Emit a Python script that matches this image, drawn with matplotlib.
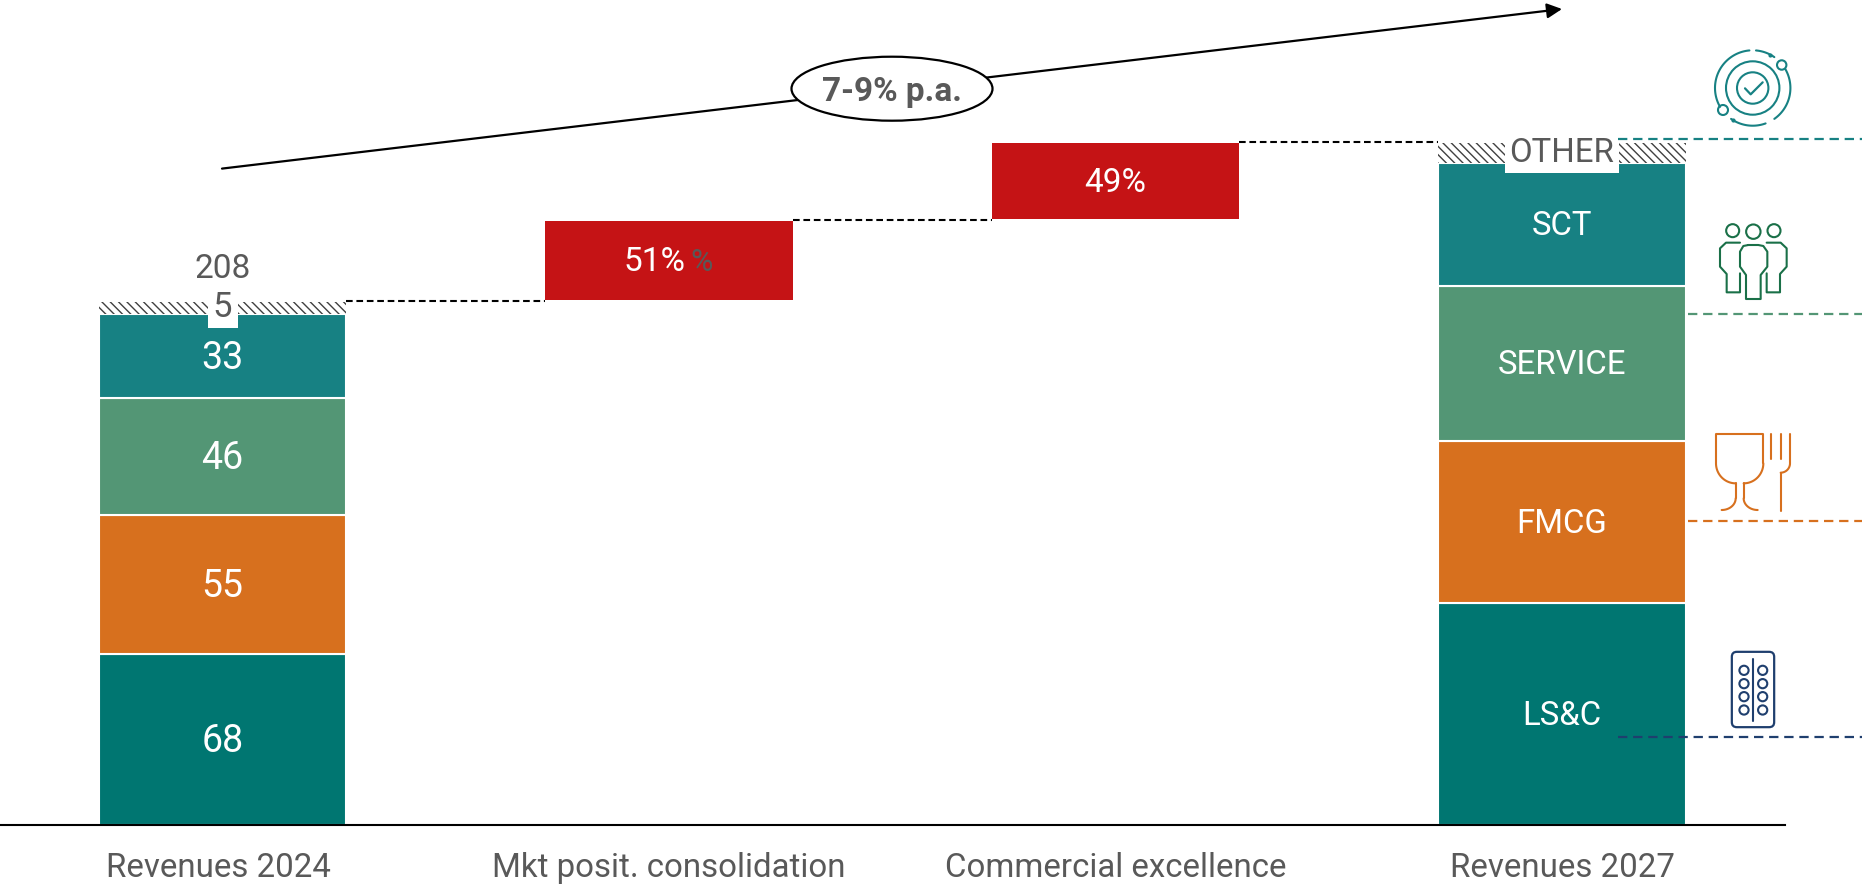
import numpy as np
import matplotlib
matplotlib.use("Agg")
import matplotlib.pyplot as plt
from matplotlib.patches import Ellipse, Rectangle, Circle, FancyBboxPatch

plt.rcParams['font.family'] = ['Roboto', 'DejaVu Sans']
plt.rcParams['hatch.linewidth'] = 1.0
plt.rcParams['hatch.color'] = '#404040'

categories = ['Revenues 2024', 'Mkt posit. consolidation', 'Commercial excellence', 'Revenues 2027']

# stacks, bottom to top
values_2024 = [68, 55.3, 46.5, 33.4, 4.9]
labels_2024 = ['68', '55', '46', '33', '5']
values_2027 = [88.2, 64.5, 61.8, 49, 7.9]
labels_2027 = ['LS&C', 'FMCG', 'SERVICE', 'SCT', 'OTHER']
seg_colors = ['#007671', '#d7701e', '#539675', '#178183', 'white']

# waterfall steps
step_bottoms = [209, 241]
step_values = [31.3, 30.3]
step_labels = ['51%', '49%']
conn_levels = [208.5, 240.8, 271.7]

total_2024 = '208'
cagr = '7-9% p.a.'

GRAY = '#595959'
RED = '#c51315'
TEAL = '#178183'
GREEN = '#1a7048'
ORANGE = '#d7701e'
NAVY = '#1f3f6e'

W, H = 1862, 886
fig = plt.figure(figsize=(W / 100, H / 100), dpi=100)

# main axes fill the figure, y scale 2.514 px per unit, baseline at px 825
ax = fig.add_axes([0, 0, 1, 1])
ax.set_xlim((0 - 222.5) / 446.5, (W - 222.5) / 446.5)
ax.set_ylim((825 - H) / 2.514, 825 / 2.514)
ax.axis('off')

# overlay in pixels for icons and guides
ov = fig.add_axes([0, 0, 1, 1])
ov.set_xlim(0, W)
ov.set_ylim(H, 0)
ov.axis('off')
ov.patch.set_alpha(0)

bar_w = 0.555
x = np.arange(len(categories))
LBL = -0.8  # glyphs sit a bit high in their box


def stack(xpos, vals, labels, fs):
    bottom = 0
    for i, (v, lab) in enumerate(zip(vals, labels)):
        if i == len(vals) - 1:
            ax.bar(xpos, v, bar_w, bottom=bottom, color='white', hatch='\\' * 4, edgecolor='#404040', linewidth=0, zorder=2)
        else:
            ax.bar(xpos, v, bar_w, bottom=bottom, color=seg_colors[i], edgecolor='white', linewidth=1.5, zorder=2)
            ax.text(xpos, bottom + v / 2 + LBL, lab, color='white', fontsize=fs, ha='center', va='center', zorder=5)
        bottom += v
    return bottom


top_2024 = stack(x[0], values_2024, labels_2024, 27)
top_2027 = stack(x[3], values_2027, labels_2027, 23.7)

# white notches behind the small labels
ax.add_patch(Rectangle((208, 301), 30, 27, color='white', transform=ov.transData, zorder=3, lw=0))
ax.add_patch(Rectangle((1505, 136), 114, 37, color='white', transform=ov.transData, zorder=3, lw=0))
ax.text(x[0], top_2024 - 2.2, labels_2024[-1], color=GRAY, fontsize=25, ha='center', va='center', zorder=5)
ax.text(x[3], top_2027 - 4.2, labels_2027[-1], color=GRAY, fontsize=23.7, ha='center', va='center', zorder=5)
ax.text(x[0], top_2024 + 13, total_2024, color=GRAY, fontsize=24, ha='center', va='center', zorder=5)

# waterfall
for i in range(2):
    ax.bar(x[i + 1], step_values[i], bar_w, bottom=step_bottoms[i], color=RED, zorder=2)
ax.text((686 - 222.5) / 446.5, step_bottoms[0] + step_values[0] / 2 + LBL, step_labels[0], color='white',
        fontsize=24, ha='right', va='center', zorder=5)
ax.text((690 - 222.5) / 446.5, step_bottoms[0] + step_values[0] / 2 + LBL, '%', color=GRAY,
        fontsize=22, ha='left', va='center', zorder=5)
ax.text(x[2], step_bottoms[1] + step_values[1] / 2 + LBL, step_labels[1], color='white', fontsize=24,
        ha='center', va='center', zorder=5)

# connectors
for i, lev in enumerate(conn_levels):
    ax.plot([x[i] + bar_w / 2, x[i + 1] - bar_w / 2], [lev, lev], color='black', lw=1.5, ls=(0, (3.2, 1.8)), zorder=1)

# baseline and category labels
ax.plot([ax.get_xlim()[0], (1785 - 222.5) / 446.5], [0, 0], color='black', lw=1.5, zorder=6)
tick_shift = [-0.008, 0, 0, 0]
for xp, c, s in zip(x, categories, tick_shift):
    ax.text(xp + s, -17, c, color=GRAY, fontsize=23.8, ha='center', va='center')

# growth arrow with ellipse
ov.annotate('', xy=(1562, 9), xytext=(222, 168.6),
            arrowprops=dict(arrowstyle='-|>,head_width=0.45,head_length=0.9', color='black', lw=1.6, shrinkA=0, shrinkB=0))
ov.add_patch(Ellipse((892, 88.7), 201, 64, fc='white', ec='black', lw=1.6, zorder=4))
ov.text(892, 92, cagr, color=GRAY, fontsize=24, fontweight='bold', ha='center', va='center', zorder=5)

# coloured guides on the right
guides = [(1618, 139, TEAL), (1688, 313.7, '#539675'), (1688, 521, ORANGE), (1618, 737.3, NAVY)]
for gx, gy, gc in guides:
    ov.plot([gx, W], [gy, gy], color=gc, lw=1.6, ls=(0, (4.2, 2.6)))


def arc(cx, cy, rx, ry, a0, a1, col, lw=1.5):
    t = np.radians(np.linspace(a0, a1, 60))
    ov.plot(cx + rx * np.cos(t), cy + ry * np.sin(t), color=col, lw=lw, solid_capstyle='round')


def poly(pts, col, ox, oy, lw=1.5):
    pts = np.array(pts) / 3
    ov.plot(pts[:, 0] + ox, pts[:, 1] + oy, color=col, lw=lw, solid_joinstyle='round', solid_capstyle='round')


def ring(cx, cy, r, col, lw=1.5):
    ov.add_patch(Circle((cx, cy), r, fc='none', ec=col, lw=lw))


# target icon
cx, cy = 1752.7, 88
ring(cx, cy, 15.7, TEAL)
ring(cx, cy, 26.7, TEAL)
arc(cx, cy, 37.7, 37.7, -30, 55, TEAL)
arc(cx, cy, 37.7, 37.7, 70, 125, TEAL)
arc(cx, cy, 37.7, 37.7, 150, 265, TEAL)
arc(cx, cy, 37.7, 37.7, -85, -55, TEAL)
ring(1781.7, 65, 4.7, TEAL)
ring(1723, 110, 5, TEAL)
ov.plot([1770, 1733], [55, 120], ls='', marker='o', ms=2, color=TEAL)
poly([(975, 265), (992, 283), (1028, 247)], TEAL, 1420, 0, lw=1.6)

# people icon
ox, oy = 1420, 0
ring(ox + 1000 / 3, 695 / 3, 7.2, GREEN)
ring(ox + 938 / 3, 692 / 3, 6.5, GREEN)
ring(ox + 1062 / 3, 692 / 3, 6.5, GREEN)
poly([(985, 735), (1015, 735), (1030, 738), (1042, 755), (1042, 800), (1022, 825), (1022, 897), (978, 897),
      (978, 825), (960, 800), (960, 755), (970, 738), (985, 735)], GREEN, ox, oy)
poly([(960, 728), (918, 728), (900, 745), (900, 800), (920, 822), (920, 877), (960, 877), (960, 820)], GREEN, ox, oy)
poly([(1040, 728), (1082, 728), (1100, 745), (1100, 800), (1080, 822), (1080, 877), (1040, 877), (1040, 820)], GREEN, ox, oy)

# glass and fork icon
ox, oy = 1620, 400
poly([(288, 190), (288, 103), (430, 103), (430, 190)], ORANGE, ox, oy)
arc(ox + 347 / 3, oy + 190 / 3, 59 / 3, 60 / 3, 90, 180, ORANGE)
arc(ox + 371 / 3, oy + 190 / 3, 59 / 3, 60 / 3, 0, 90, ORANGE)
poly([(347, 250), (347, 295)], ORANGE, ox, oy)
poly([(371, 250), (371, 295)], ORANGE, ox, oy)
arc(ox + 305 / 3, oy + 295 / 3, 42 / 3, 35 / 3, 0, 90, ORANGE)
arc(ox + 413 / 3, oy + 295 / 3, 42 / 3, 35 / 3, 90, 180, ORANGE)
poly([(453, 103), (453, 178)], ORANGE, ox, oy)
poly([(482, 103), (482, 178)], ORANGE, ox, oy)
poly([(510, 103), (510, 190)], ORANGE, ox, oy)
arc(ox + 482 / 3, oy + 190 / 3, 28 / 3, 28 / 3, 0, 90, ORANGE)
poly([(482, 218), (482, 332)], ORANGE, ox, oy)

# pill icon
ov.add_patch(FancyBboxPatch((ox + 340 / 3, oy + 760 / 3), 118 / 3, 217 / 3, boxstyle='round,pad=1.5,rounding_size=5',
                            fc='white', ec=NAVY, lw=1.6))
poly([(400, 778), (400, 962)], NAVY, ox, oy)
for px_ in (372, 428):
    for py_ in (811, 851, 890, 930):
        ring(ox + px_ / 3, oy + py_ / 3, 4.6, NAVY)

fig.savefig('out.png', dpi=100)
